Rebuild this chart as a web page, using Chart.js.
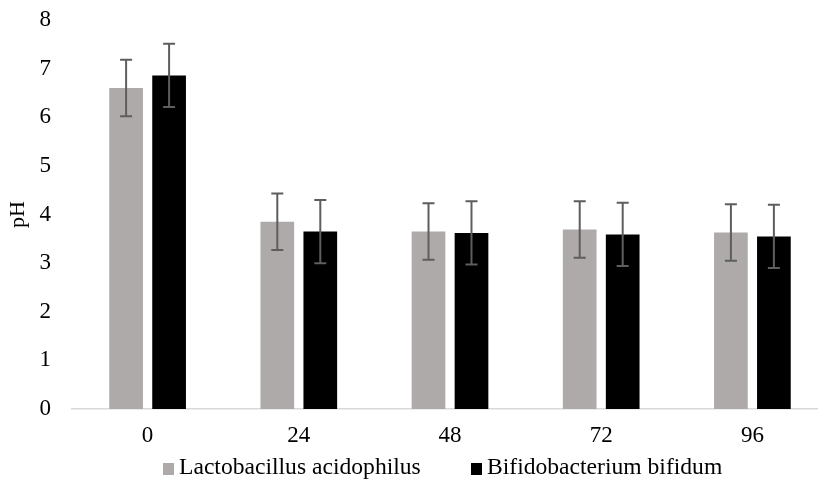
<!DOCTYPE html>
<html>
<head>
<meta charset="utf-8">
<script src="https://cdn.jsdelivr.net/npm/chart.js@4"></script>
<style>
  html, body { margin: 0; padding: 0; background: #fff; overflow: hidden; }
  #wrap { position: relative; width: 818px; height: 479px; overflow: hidden; }
  #chart { position: absolute; left: 0; top: 0; }
  .leg { position: absolute; top: 455px; font-family: 'Liberation Serif', 'Times New Roman', serif; font-size: 23.6px; line-height: 23px; color: #000; white-space: nowrap; }
  .leg i { display: inline-block; width: 11px; height: 12px; margin-right: 5px; vertical-align: -1px; }
</style>
</head>
<body>
<div id="wrap">
  <canvas id="chart" width="828" height="479"></canvas>
  <div class="leg" style="left:163px"><i style="background:#aeaaaa"></i>Lactobacillus acidophilus</div>
  <div class="leg" style="left:471px"><i style="background:#000"></i>Bifidobacterium bifidum</div>
</div>
<script>
  const hours = ['0', '24', '48', '72', '96'];
  const lactoPH = [6.60, 3.85, 3.65, 3.69, 3.63];
  const bifidoPH = [6.86, 3.65, 3.62, 3.59, 3.55];
  const lactoErr = [0.58, 0.58, 0.58, 0.58, 0.58];
  const bifidoErr = [0.65, 0.65, 0.65, 0.65, 0.65];

  const serif = "'Liberation Serif', 'Times New Roman', serif";

  // error bars drawn on top of each bar
  const errorBars = {
    id: 'errorBars',
    afterDatasetsDraw(chart) {
      const ctx = chart.ctx;
      const y = chart.scales.y;
      const errs = [lactoErr, bifidoErr];
      ctx.save();
      ctx.strokeStyle = '#5e5e5e';
      ctx.lineWidth = 2;
      chart.data.datasets.forEach((ds, i) => {
        chart.getDatasetMeta(i).data.forEach((bar, j) => {
          const top = y.getPixelForValue(ds.data[j] + errs[i][j]);
          const bot = y.getPixelForValue(ds.data[j] - errs[i][j]);
          ctx.beginPath();
          ctx.moveTo(bar.x, top); ctx.lineTo(bar.x, bot);
          ctx.moveTo(bar.x - 6, top); ctx.lineTo(bar.x + 6, top);
          ctx.moveTo(bar.x - 6, bot); ctx.lineTo(bar.x + 6, bot);
          ctx.stroke();
        });
      });
      ctx.restore();
    }
  };

  new Chart(document.getElementById('chart'), {
    type: 'bar',
    data: {
      labels: hours,
      datasets: [
        { label: 'Lactobacillus acidophilus', data: lactoPH, backgroundColor: '#aeaaaa' },
        { label: 'Bifidobacterium bifidum', data: bifidoPH, backgroundColor: '#000000' }
      ]
    },
    options: {
      responsive: false,
      animation: false,
      layout: { padding: { top: 20, right: 0, bottom: 0, left: 0 } },
      datasets: { bar: { categoryPercentage: 0.5686, barPercentage: 0.784 } },
      plugins: { legend: { display: false }, tooltip: { enabled: false } },
      scales: {
        x: {
          grid: { display: false, drawTicks: false },
          border: { display: true, color: '#d9d9d9', width: 1.5 },
          ticks: { color: '#000', padding: 13, font: { family: serif, size: 23 } },
          afterFit(scale) { scale.height = 70; }
        },
        y: {
          min: 0, max: 8,
          // tick marks hidden, their length only spaces the labels from the plot
          grid: { display: false, drawTicks: true, tickLength: 21 },
          border: { display: false },
          ticks: { stepSize: 1, color: '#000', padding: 0, font: { family: serif, size: 23 } },
          title: { display: true, text: 'pH', color: '#000', padding: { top: 5, bottom: 0 }, font: { family: serif, size: 22 } },
          afterFit(scale) { scale.width = 72; }
        }
      }
    },
    plugins: [errorBars]
  });
</script>
</body>
</html>
